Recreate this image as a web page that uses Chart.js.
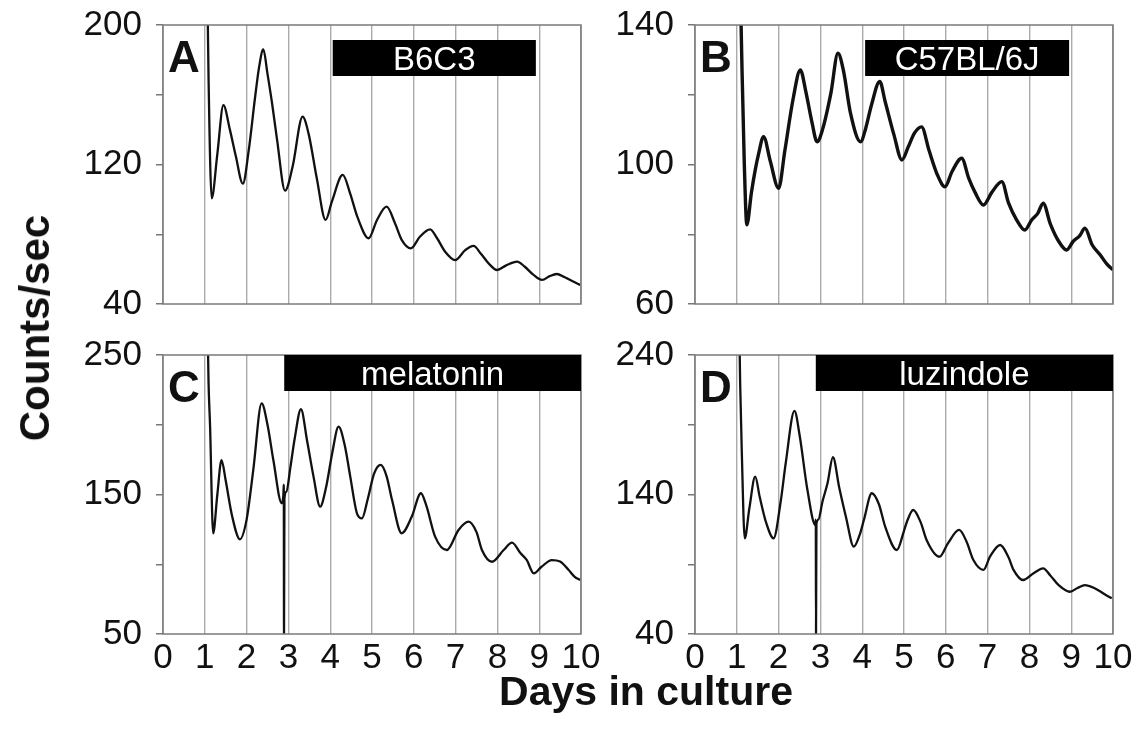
<!DOCTYPE html>
<html>
<head>
<meta charset="utf-8">
<script src="https://cdn.jsdelivr.net/npm/chart.js@4.4.1/dist/chart.umd.min.js"></script>
<style>
  html, body { margin: 0; padding: 0; background: #fff; }
  #fig { position: relative; width: 1143px; height: 743px; overflow: hidden; font-family: "Liberation Sans", Arial, sans-serif; color: #111; }
  .panel { position: absolute; }
  #ytitle { position: absolute; left: 35px; top: 328px; transform: translate(-50%, -50%) rotate(-90deg); font-weight: bold; font-size: 42px; white-space: nowrap; }
  #xtitle { position: absolute; left: 646px; top: 691px; transform: translate(-50%, -50%); font-weight: bold; font-size: 41px; white-space: nowrap; }
</style>
</head>
<body>
<div id="fig">
  <canvas id="panelA" class="panel" width="600" height="320" style="left:0;top:0"></canvas>
  <canvas id="panelB" class="panel" width="543" height="320" style="left:600px;top:0"></canvas>
  <canvas id="panelC" class="panel" width="600" height="370" style="left:0;top:330px"></canvas>
  <canvas id="panelD" class="panel" width="543" height="370" style="left:600px;top:330px"></canvas>
  <div id="ytitle">Counts/sec</div>
  <div id="xtitle">Days in culture</div>
</div>
<script>
// bioluminescence traces (days in culture vs counts/sec)
const daysA = [1.04, 1.09, 1.165, 1.30, 1.445, 1.60, 1.74, 1.91, 2.05, 2.20, 2.30, 2.40, 2.50, 2.61, 2.73, 2.92,
  3.10, 3.34, 3.48, 3.68, 3.89, 4.04, 4.30, 4.48, 4.65, 4.92, 5.12, 5.35, 5.55, 5.71, 5.93, 6.15, 6.39, 6.55,
  6.75, 6.99, 7.23, 7.43, 7.60, 7.80, 7.99, 8.20, 8.47, 8.65, 8.85, 9.07, 9.25, 9.42, 9.60, 9.80, 9.98];
const countsA = [260, 169, 100.6, 126, 154, 140, 125, 109, 128, 158, 176, 186, 172, 155, 134, 105,
  118.7, 147.4, 138, 112, 88.2, 98.7, 114, 103.2, 90, 77.7, 88.2, 95.8, 86.3, 76.8, 71.9, 78.7, 82.8, 78,
  70, 65.2, 70.9, 73.3, 69, 63, 59.5, 62, 64.3, 61.5, 57, 53.8, 56, 57.2, 55.5, 53, 50.9];

const daysB = [1.06, 1.12, 1.18, 1.24, 1.35, 1.44, 1.52, 1.64, 1.80, 2.00, 2.15, 2.35, 2.52, 2.65, 2.80,
  2.92, 3.05, 3.25, 3.42, 3.55, 3.72, 3.96, 4.08, 4.22, 4.42, 4.55, 4.76, 4.95, 5.10, 5.25, 5.42, 5.60,
  5.80, 5.98, 6.15, 6.38, 6.55, 6.70, 6.90, 7.10, 7.34, 7.50, 7.70, 7.89, 8.05, 8.20, 8.33, 8.50, 8.70, 8.89,
  9.05, 9.20, 9.33, 9.50, 9.70, 9.85, 10.0];
const countsB = [165, 130, 100, 82.7, 92, 98.4, 103, 108, 101, 93.2, 104, 119, 127.1, 121, 112,
  106.5, 110, 120.4, 131.9, 127, 114.7, 106.5, 110.2, 117, 123.8, 118, 108.5, 101.3, 105, 109, 110.8, 104,
  97, 93.6, 98, 101.8, 96, 92, 88.4, 92, 95.1, 89, 84, 81.2, 84, 86, 88.9, 83, 78, 75.5,
  78, 79.5, 81.7, 77, 74, 71.5, 69.8];

const daysC = [1.05, 1.09, 1.125, 1.20, 1.30, 1.40, 1.50, 1.65, 1.84, 2.00, 2.16, 2.36, 2.50, 2.64, 2.84,
  2.88, 2.89, 2.895, 2.905, 2.95, 3.05, 3.15, 3.30, 3.45, 3.60, 3.76, 3.90, 4.05, 4.20, 4.35, 4.48, 4.64,
  4.76, 4.90, 5.05, 5.21, 5.35, 5.48, 5.71, 5.95, 6.17, 6.30, 6.51, 6.79, 7.07, 7.31, 7.50, 7.63, 7.87, 8.15,
  8.35, 8.55, 8.70, 8.87, 9.05, 9.30, 9.50, 9.70, 9.85, 9.98];
const countsC = [300, 230, 200, 122.2, 150, 174.7, 160, 135, 117.9, 132, 167.6, 215.3, 200, 174.7, 143.7,
  150, 157, 50, 147, 152, 170, 190, 211.1, 188, 163, 141.3, 155, 180, 198.6, 185, 162.8, 136.5,
  132.9, 147, 165, 171.2, 163, 146, 122.2, 134, 150.9, 142, 119.8, 110.2, 124.6, 130.5, 123, 110.2, 101.8, 110.2,
  115.5, 108, 103.1, 93.5, 98, 103, 102, 96, 91, 88.7];

const daysD = [1.04, 1.08, 1.12, 1.19, 1.30, 1.44, 1.55, 1.70, 1.88, 2.05, 2.17, 2.38, 2.50, 2.69, 2.88,
  2.89, 2.895, 2.905, 2.95, 3.05, 3.17, 3.30, 3.45, 3.61, 3.80, 3.95, 4.04, 4.23, 4.40, 4.55, 4.83, 5.00, 5.07, 5.22,
  5.40, 5.54, 5.85, 6.05, 6.32, 6.50, 6.66, 6.90, 7.06, 7.30, 7.50, 7.62, 7.85, 8.10, 8.33, 8.50, 8.70, 8.97,
  9.15, 9.33, 9.55, 9.80, 9.97];
const countsD = [300, 220, 170, 108.6, 130, 152.8, 138, 120, 108.6, 135, 162.4, 199.9, 183, 143.2, 118.1,
  122, 40, 119, 122, 135, 148, 166.7, 145, 124.1, 102.6, 112, 121.7, 140.9, 133, 116.9, 100.2, 114, 120.5, 128.9,
  120, 107.4, 95.4, 105, 114.6, 106, 93, 85.9, 95.6, 103.8, 95, 86, 78.7, 83.6, 87.1, 82, 75, 70.3,
  73, 75.1, 73, 68.5, 65.6];

// y-axis ranges, tick steps and the ticks that carry a label
const yRangeA = [40, 200], yStepA = 40, yLabelsA = [40, 120, 200];
const yRangeB = [60, 140], yStepB = 20, yLabelsB = [60, 100, 140];
const yRangeC = [50, 250], yStepC = 50, yLabelsC = [50, 150, 250];
const yRangeD = [40, 240], yStepD = 50, yLabelsD = [40, 140, 240];

// black treatment / strain bars (in days)
const barA = { from: 4.06, to: 8.92, label: 'B6C3' };
const barB = { from: 4.07, to: 8.95, label: 'C57BL/6J' };
const barC = { from: 2.9, to: 10, label: 'melatonin' };
const barD = { from: 2.89, to: 10, label: 'luzindole' };

const FONT = '"Liberation Sans", Arial, sans-serif';

const decor = {
  id: 'panelDecor',
  afterDatasetsDraw(chart, args, o) {
    const { ctx, chartArea: a, scales: { x } } = chart;
    ctx.save();
    // frame
    ctx.strokeStyle = '#7a7a7a';
    ctx.lineWidth = 1.5;
    ctx.strokeRect(a.left, a.top, a.right - a.left, a.bottom - a.top);
    // black label bar
    const x0 = x.getPixelForValue(o.bar.from);
    const x1 = x.getPixelForValue(o.bar.to);
    const top = a.top + o.barOffset;
    ctx.fillStyle = '#000';
    ctx.fillRect(x0, top, x1 - x0, o.barHeight);
    ctx.fillStyle = '#fff';
    ctx.font = '33px ' + FONT;
    ctx.textAlign = 'center';
    ctx.textBaseline = 'alphabetic';
    ctx.fillText(o.bar.label, (x0 + x1) / 2, top + o.barHeight / 2 + 11.5);
    // panel letter
    ctx.fillStyle = '#111';
    ctx.font = 'bold 44px ' + FONT;
    ctx.textAlign = 'left';
    ctx.fillText(o.letter, a.left + 5, a.top + 47);
    ctx.restore();
  }
};

function panel(id, days, counts, yRange, yStep, yLabels, letter, bar, opt) {
  return new Chart(document.getElementById(id), {
    type: 'line',
    data: {
      datasets: [{
        data: days.map((d, i) => ({ x: d, y: counts[i] })),
        borderColor: '#111',
        borderWidth: opt.lineWidth,
        pointRadius: 0,
        cubicInterpolationMode: 'monotone',
        fill: false
      }]
    },
    options: {
      responsive: false,
      animation: false,
      events: [],
      layout: { padding: opt.padding },
      plugins: {
        legend: { display: false },
        tooltip: { enabled: false },
        panelDecor: { letter, bar, barOffset: opt.barOffset, barHeight: opt.barHeight }
      },
      scales: {
        x: {
          type: 'linear', min: 0, max: 10,
          ticks: { stepSize: 1, display: opt.showX, autoSkip: false, maxRotation: 0,
                   font: { size: 35, family: FONT }, color: '#111', padding: 3 },
          grid: { color: '#ababab', lineWidth: 1.4, drawTicks: false },
          border: { display: false },
          afterFit: s => { s.height = opt.xHeight; s.paddingLeft = 0; s.paddingRight = 0; }
        },
        y: {
          min: yRange[0], max: yRange[1],
          ticks: { stepSize: yStep, autoSkip: false, callback: v => yLabels.includes(v) ? v : '',
                   font: { size: 35, family: FONT }, color: '#111', padding: 14 },
          grid: { drawOnChartArea: false, color: '#777', lineWidth: 1.5, tickLength: 7 },
          border: { display: false },
          afterFit: s => { s.width = opt.yWidth; s.paddingTop = 0; s.paddingBottom = 0; }
        }
      }
    },
    plugins: [decor]
  });
}

const topLeft = { padding: { top: 25, right: 19, bottom: 16, left: 0 }, yWidth: 163, xHeight: 0, showX: false, barOffset: 15, barHeight: 36, lineWidth: 2.3 };
const topRight = { padding: { top: 25, right: 30, bottom: 16, left: 0 }, yWidth: 95, xHeight: 0, showX: false, barOffset: 15, barHeight: 36, lineWidth: 3.4 };
const botLeft = { padding: { top: 25, right: 19, bottom: 0, left: 0 }, yWidth: 163, xHeight: 66, showX: true, barOffset: 0, barHeight: 36, lineWidth: 2.3 };
const botRight = { padding: { top: 25, right: 30, bottom: 0, left: 0 }, yWidth: 95, xHeight: 66, showX: true, barOffset: 0, barHeight: 36, lineWidth: 2.3 };

panel('panelA', daysA, countsA, yRangeA, yStepA, yLabelsA, 'A', barA, topLeft);
panel('panelB', daysB, countsB, yRangeB, yStepB, yLabelsB, 'B', barB, topRight);
panel('panelC', daysC, countsC, yRangeC, yStepC, yLabelsC, 'C', barC, botLeft);
panel('panelD', daysD, countsD, yRangeD, yStepD, yLabelsD, 'D', barD, botRight);
</script>
</body>
</html>
